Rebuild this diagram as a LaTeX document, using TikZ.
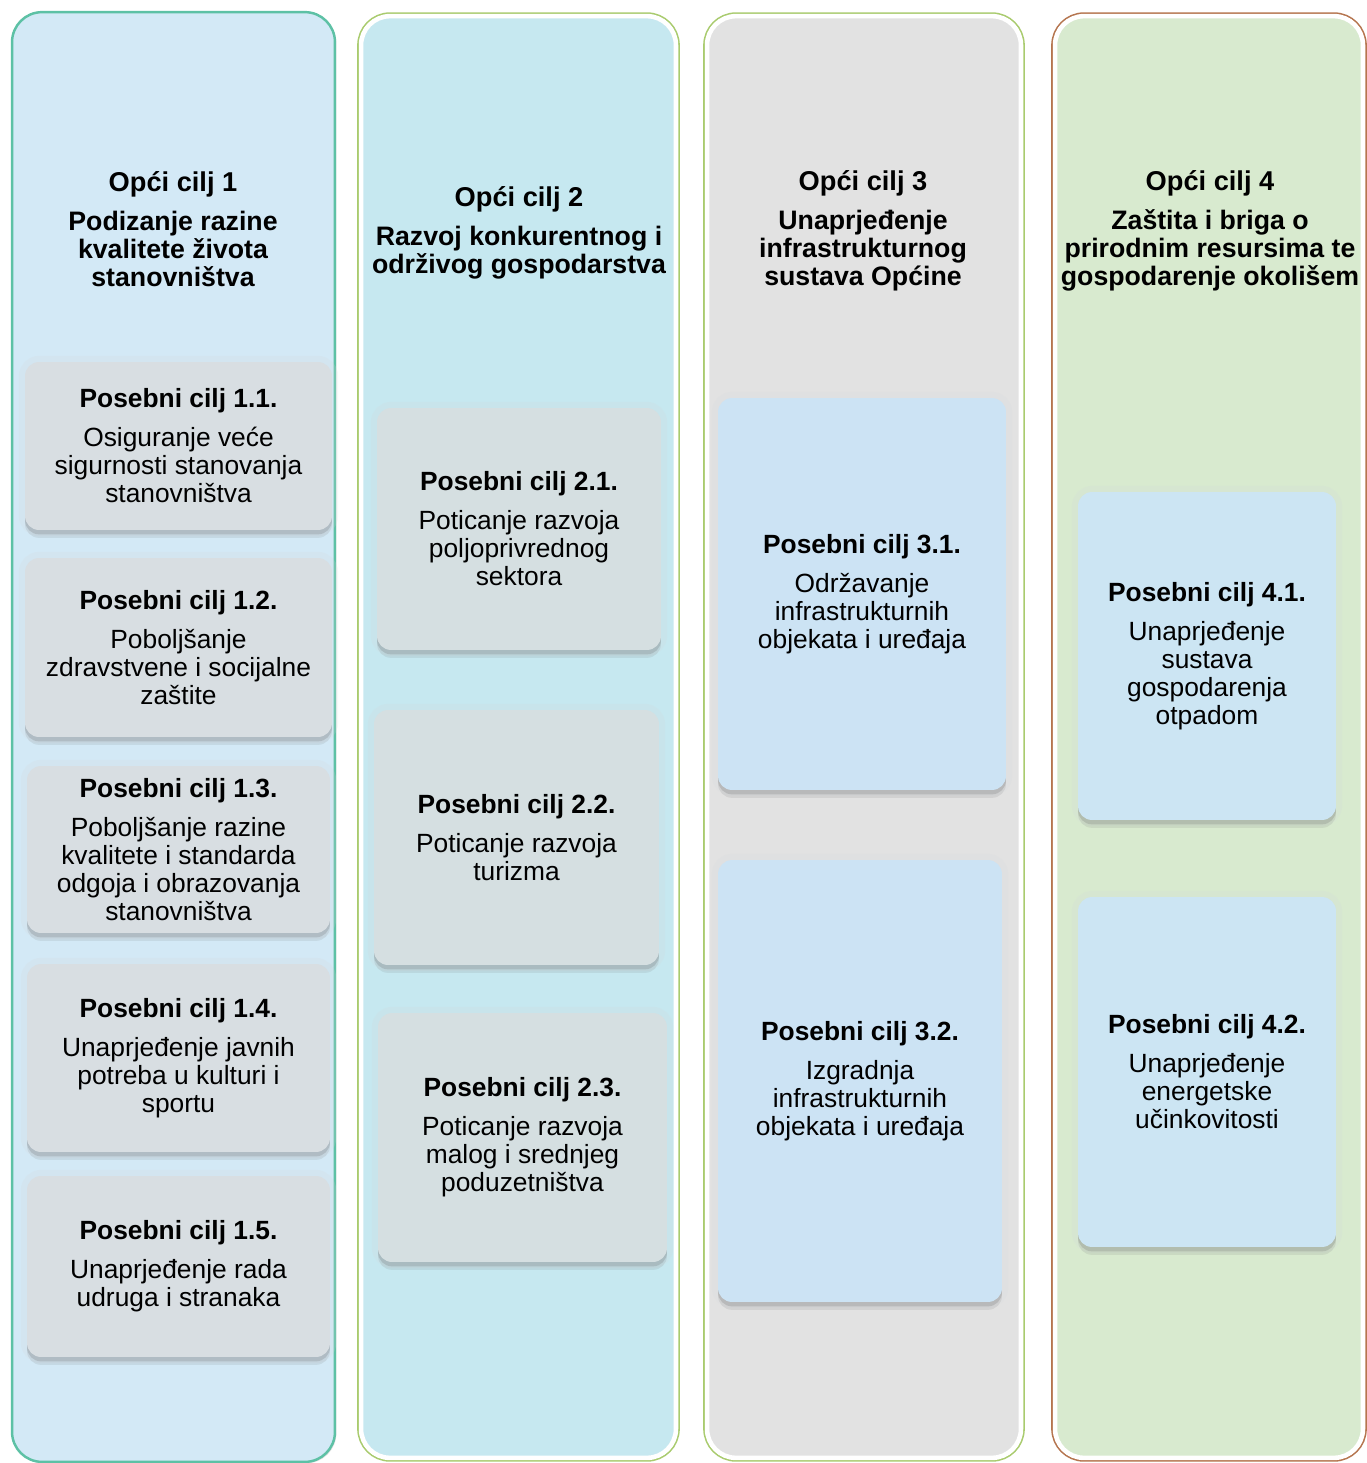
\documentclass[tikz,border=0pt]{standalone}
\usepackage{fontspec}
\setmainfont{Liberation Sans}
\usetikzlibrary{shadows}
\definecolor{frameteal}{RGB}{93,193,165}
\definecolor{framegreen}{RGB}{169,203,110}
\definecolor{framebrown}{RGB}{181,117,79}
\definecolor{fillone}{RGB}{211,233,246}
\definecolor{filltwo}{RGB}{198,232,240}
\definecolor{fillthree}{RGB}{226,226,226}
\definecolor{fillfour}{RGB}{216,234,207}
\definecolor{boxgray}{RGB}{216,222,226}
\definecolor{boxgraytwo}{RGB}{213,223,225}
\definecolor{boxblue}{RGB}{204,227,244}
\definecolor{boxbluetwo}{RGB}{204,229,243}
\tikzset{
  colpanel/.style={rounded corners=0.6cm, minimum width=6.46cm, minimum height=29cm,
                   draw=frameteal, line width=1.4pt, fill=fillone,
                   drop shadow={shadow xshift=0.8pt, shadow yshift=-0.8pt, opacity=0.25}},
  colframe/.style={rounded corners=0.58cm, minimum height=28.84cm,
                   fill=#1, draw=white, line width=2.6pt,
                   drop shadow={shadow xshift=1pt, shadow yshift=-1pt, opacity=0.25},
                   preaction={draw=border, line width=4.4pt}},
  colhead/.style={align=center, inner sep=0pt, font=\fontsize{15.2}{15.9}\selectfont\bfseries},
  subbox/.style={rounded corners=8pt, fill=#1, align=center, inner sep=2pt,
                 font=\fontsize{15}{15.9}\selectfont,
                 preaction={draw=#1!70!black!40, line width=7pt, opacity=0.18},
                 drop shadow={shadow xshift=0pt, shadow yshift=-4.5pt, opacity=0.12, fill=black!60},
                 drop shadow={shadow xshift=0pt, shadow yshift=-2.5pt, opacity=0.22, fill=black!60}},
}
\newcommand{\headtitle}[1]{{\fontsize{15.5}{16}\selectfont #1}\\[6.5pt]}
\newcommand{\subtitle}[1]{\textbf{#1}\\[6.3pt]}

\begin{document}
\begin{tikzpicture}[x=0.02cm, y=-0.02cm]
  \useasboundingbox (0,0) rectangle (1366,1463);

  % columns
  \node[colpanel] (col1) at (173.5,737) {};
  \colorlet{border}{framegreen}
  \node[colframe=filltwo, minimum width=6.30cm] (col2) at (518.5,737) {};
  \node[colframe=fillthree, minimum width=6.28cm] (col3) at (864,737) {};
  \colorlet{border}{framebrown}
  \node[colframe=fillfour, minimum width=6.16cm] (col4) at (1209,737) {};

  % general goals
  \node[colhead] (h1) at (173,229) {\headtitle{Opći cilj 1}Podizanje razine\\kvalitete života\\stanovništva};
  \node[colhead] (h2) at (519,233) {\headtitle{Opći cilj 2}Razvoj konkurentnog i\\održivog gospodarstva};
  \node[colhead] (h3) at (863,231) {\headtitle{Opći cilj 3}Unaprjeđenje\\infrastrukturnog\\sustava Općine};
  \node[colhead] (h4) at (1210,231) {\headtitle{Opći cilj 4}Zaštita i briga o\\prirodnim resursima te\\gospodarenje okolišem};

  % specific goals 1
  \node[subbox=boxgray, minimum width=6.14cm, minimum height=3.36cm] (s11) at (178.5,446)
       {\subtitle{Posebni cilj 1.1.}Osiguranje veće\\sigurnosti stanovanja\\stanovništva};
  \node[subbox=boxgray, minimum width=6.14cm, minimum height=3.58cm] (s12) at (178.5,647.5)
       {\subtitle{Posebni cilj 1.2.}Poboljšanje\\zdravstvene i socijalne\\zaštite};
  \node[subbox=boxgray, minimum width=6.06cm, minimum height=3.34cm] (s13) at (178.5,849.5)
       {\subtitle{Posebni cilj 1.3.}Poboljšanje razine\\kvalitete i standarda\\odgoja i obrazovanja\\stanovništva};
  \node[subbox=boxgray, minimum width=6.06cm, minimum height=3.76cm] (s14) at (178.5,1058)
       {\subtitle{Posebni cilj 1.4.}Unaprjeđenje javnih\\potreba u kulturi i\\sportu};
  \node[subbox=boxgray, minimum width=6.06cm, minimum height=3.62cm] (s15) at (178.5,1266.5)
       {\subtitle{Posebni cilj 1.5.}Unaprjeđenje rada\\udruga i stranaka};

  % specific goals 2
  \node[subbox=boxgraytwo, minimum width=5.68cm, minimum height=4.84cm] (s21) at (519,529)
       {\subtitle{Posebni cilj 2.1.}Poticanje razvoja\\poljoprivrednog\\sektora};
  \node[subbox=boxgraytwo, minimum width=5.70cm, minimum height=5.10cm] (s22) at (516.5,837.5)
       {\subtitle{Posebni cilj 2.2.}Poticanje razvoja\\turizma};
  \node[subbox=boxgraytwo, minimum width=5.78cm, minimum height=4.98cm] (s23) at (522.5,1137.5)
       {\subtitle{Posebni cilj 2.3.}Poticanje razvoja\\malog i srednjeg\\poduzetništva};

  % specific goals 3
  \node[subbox=boxblue, minimum width=5.76cm, minimum height=7.84cm] (s31) at (862,594)
       {\subtitle{Posebni cilj 3.1.}Održavanje\\infrastrukturnih\\objekata i uređaja};
  \node[subbox=boxblue, minimum width=5.68cm, minimum height=8.84cm] (s32) at (860,1081)
       {\subtitle{Posebni cilj 3.2.}Izgradnja\\infrastrukturnih\\objekata i uređaja};

  % specific goals 4
  \node[subbox=boxbluetwo, minimum width=5.16cm, minimum height=6.56cm] (s41) at (1207,656)
       {\subtitle{Posebni cilj 4.1.}Unaprjeđenje\\sustava\\gospodarenja\\otpadom};
  \node[subbox=boxbluetwo, minimum width=5.16cm, minimum height=7.00cm] (s42) at (1207,1072)
       {\subtitle{Posebni cilj 4.2.}Unaprjeđenje\\energetske\\učinkovitosti};
\end{tikzpicture}
\end{document}
